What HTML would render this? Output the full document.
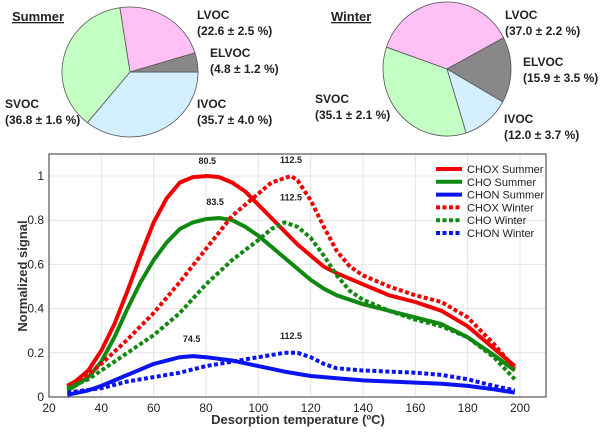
<!DOCTYPE html>
<html><head><meta charset="utf-8"><style>
body{margin:0;background:#fff;}
svg{display:block;font-family:"Liberation Sans",Arial,sans-serif;}
</style></head><body>
<svg id="c" width="600" height="433" viewBox="0 0 600 433">
<g id="pies"></g>
<g id="plot"></g>
</svg>
<script>
const pieLabels=["LVOC","ELVOC","IVOC","SVOC"];
const summerValues=[22.6,4.8,35.7,36.8];
const winterValues=[37.0,15.9,12.0,35.1];
const pieColors=["#ffc0f5","#888888","#d4efff","#c4ffc4"];

const xTicks=[20,40,60,80,100,120,140,160,180,200];
const yTicks=[0,0.2,0.4,0.6,0.8,1];
const chox_s_x=[27,30,35,40,45,50,55,60,65,70,75,80.5,85,90,95,100,105,110,115,120,125,130,140,150,160,170,180,190,198];
const chox_s_y=[0.05,0.07,0.12,0.21,0.33,0.48,0.64,0.79,0.9,0.97,0.995,1.0,0.995,0.97,0.93,0.87,0.81,0.75,0.69,0.64,0.59,0.56,0.51,0.46,0.43,0.39,0.32,0.22,0.14];
const cho_s_x=[27,30,35,40,45,50,55,60,65,70,75,80,85,90,95,100,105,110,115,120,125,130,140,150,160,170,180,190,198];
const cho_s_y=[0.03,0.05,0.09,0.16,0.27,0.4,0.52,0.62,0.7,0.76,0.79,0.805,0.81,0.8,0.77,0.73,0.68,0.63,0.58,0.53,0.49,0.46,0.42,0.39,0.36,0.33,0.27,0.19,0.12];
const chon_s_x=[27,35,40,50,60,70,75,80,90,100,110,120,130,140,160,170,180,190,198];
const chon_s_y=[0.01,0.03,0.05,0.1,0.15,0.18,0.185,0.18,0.165,0.14,0.115,0.095,0.085,0.075,0.065,0.06,0.05,0.035,0.02];
const chox_w_x=[27,35,40,50,60,70,80,90,100,105,112.5,115,120,125,130,135,140,150,160,170,180,190,198];
const chox_w_y=[0.05,0.1,0.15,0.26,0.38,0.52,0.67,0.82,0.92,0.97,1.0,0.98,0.89,0.77,0.66,0.59,0.55,0.5,0.46,0.43,0.36,0.24,0.13];
const cho_w_x=[27,35,40,50,60,70,80,90,100,105,110,115,120,125,130,135,140,150,160,170,180,190,198];
const cho_w_y=[0.04,0.08,0.12,0.2,0.28,0.38,0.51,0.62,0.71,0.76,0.79,0.77,0.72,0.64,0.55,0.48,0.44,0.39,0.35,0.32,0.27,0.18,0.08];
const chon_w_x=[27,40,50,60,70,80,90,100,110,115,120,125,130,140,150,160,170,180,190,198];
const chon_w_y=[0.02,0.04,0.07,0.09,0.11,0.14,0.16,0.18,0.2,0.2,0.18,0.15,0.13,0.12,0.115,0.11,0.1,0.08,0.05,0.03];
const seriesNames=["CHOX Summer","CHO Summer","CHON Summer","CHOX Winter","CHO Winter","CHON Winter"];
const peakLabels=["80.5","83.5","74.5","112.5","112.5","112.5"];
const peakX=[80.5,83.5,74.5,112.5,112.5,112.5];
const peakY=[1.0,0.81,0.185,1.0,0.79,0.2];

const NS="http://www.w3.org/2000/svg";
function mk(t,a,p){const e=document.createElementNS(NS,t);for(const k in a)e.setAttribute(k,a[k]);p.appendChild(e);return e;}

const pies=document.getElementById('pies');
function drawPie(vals,cx,cy,rx,ry,start,name){
  const g=mk('g',{},pies);
  
  
  const tot=vals.reduce((a,b)=>a+b,0);let a=start*Math.PI/180;
  vals.forEach((v,i)=>{
    const a2=a+v/tot*2*Math.PI;
    const x1=cx+rx*Math.sin(a),y1=cy-ry*Math.cos(a),x2=cx+rx*Math.sin(a2),y2=cy-ry*Math.cos(a2);
    const p=mk('path',{d:`M${cx},${cy}L${x1},${y1}A${rx},${ry} 0 ${a2-a>Math.PI?1:0} 1 ${x2},${y2}Z`,fill:pieColors[i],stroke:'#555','stroke-width':0.8},g);
    
    
    a=a2;
  });
}
drawPie(summerValues,130,72,68,65,-8.6,'summer-pie');
drawPie(winterValues,447,69,64,67,-71,'winter-pie');
function txt(s,x,y,attrs,name,parent){const t=mk('text',Object.assign({x:x,y:y},attrs),parent||pies);t.textContent=s;return t;}
const lb={'font-size':12,'font-weight':'bold',fill:'#222'};
txt('Summer',12,21,Object.assign({},lb,{'text-decoration':'underline','font-size':13}),'summer-title');
txt('Winter',331,21,Object.assign({},lb,{'text-decoration':'underline','font-size':13}),'winter-title');
const sl=[["LVOC","(22.6 ± 2.5 %)",197,19],["ELVOC","(4.8 ± 1.2 %)",210,57],["SVOC","(36.8 ± 1.6 %)",5,108],["IVOC","(35.7 ± 4.0 %)",197,108]];
sl.forEach(r=>{txt(r[0],r[2],r[3],lb,'summer-label-'+r[0].toLowerCase());txt(r[1],r[2],r[3]+16,lb,'summer-value-'+r[0].toLowerCase());});
const wl=[["LVOC","(37.0 ± 2.2 %)",505,19],["ELVOC","(15.9 ± 3.5 %)",523,66],["SVOC","(35.1 ± 2.1 %)",315,103],["IVOC","(12.0 ± 3.7 %)",504,123]];
wl.forEach(r=>{txt(r[0],r[2],r[3],lb,'winter-label-'+r[0].toLowerCase());txt(r[1],r[2],r[3]+16,lb,'winter-value-'+r[0].toLowerCase());});

const plot=document.getElementById('plot');
const X0=49,X1=546,Y0=397,YT=154;
const sx=v=>49+(v-20)*(520-49)/180;
const sy=v=>397-v*221;
mk('rect',{x:X0,y:YT,width:X1-X0,height:Y0-YT,fill:'#fff'},plot);
xTicks.forEach(t=>{
  const l=mk('line',{x1:sx(t),x2:sx(t),y1:YT,y2:Y0,stroke:'#e4e4e4','stroke-width':1},plot);
  
  txt(String(t),sx(t),412,{'font-size':12,'text-anchor':'middle',fill:'#222'},'x-tick-label',plot);
});
yTicks.forEach(t=>{
  const l=mk('line',{x1:X0,x2:X1,y1:sy(t),y2:sy(t),stroke:'#e4e4e4','stroke-width':1},plot);
  
  txt(String(t),X0-5,sy(t)+4,{'font-size':12,'text-anchor':'end',fill:'#222'},'y-tick-label',plot);
});
const fr=mk('rect',{x:X0,y:YT,width:X1-X0,height:Y0-YT,fill:'none',stroke:'#333','stroke-width':1},plot);

const seriesX=[chox_s_x,cho_s_x,chon_s_x,chox_w_x,cho_w_x,chon_w_x];
const seriesY=[chox_s_y,cho_s_y,chon_s_y,chox_w_y,cho_w_y,chon_w_y];
const cols=['#f00000','#118811','#0a14f0','#f00000','#118811','#0a14f0'];
seriesX.forEach((xs,i)=>{
  const pts=xs.map((x,j)=>sx(x).toFixed(1)+','+sy(seriesY[i][j]).toFixed(1)).join(' ');
  const attrs={points:pts,fill:'none',stroke:cols[i],'stroke-width':4,'stroke-linejoin':'round'};
  if(i>=3)attrs['stroke-dasharray']='4 2.5';
  const p=mk('polyline',attrs,plot);
  
  
});
const pkOff=[-12,-13,-14,-13,-22,-14];
peakLabels.forEach((s,i)=>{txt(s,sx(peakX[i]),sy(peakY[i])+pkOff[i],{'font-size':9,'font-weight':'bold','text-anchor':'middle',fill:'#222'},'peak-label',plot);});
seriesNames.forEach((n,i)=>{
  const y=169+i*12.8;
  const a={x1:436,x2:462,y1:y,y2:y,stroke:cols[i],'stroke-width':4};
  if(i>=3)a['stroke-dasharray']='4 2.5';
  const l=mk('line',a,plot);
  
  txt(n,467,y+4,{'font-size':11,fill:'#222'},'legend-entry',plot);
});
txt('Desorption temperature (ºC)',298,424,{'font-size':13,'font-weight':'bold','text-anchor':'middle',fill:'#333'},'x-axis-title',plot);
txt('Normalized signal',0,0,{'font-size':13,'font-weight':'bold','text-anchor':'middle',fill:'#333',transform:'translate(27,276) rotate(-90)'},'y-axis-title',plot);
</script>
</body></html>
